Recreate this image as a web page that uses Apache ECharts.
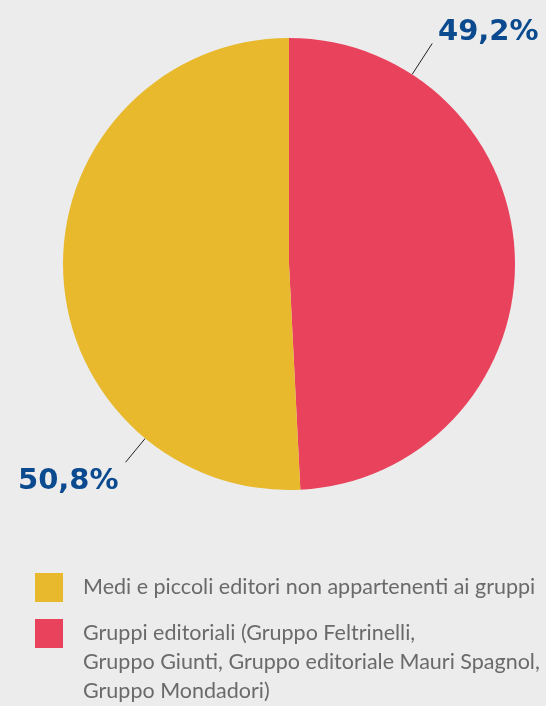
<!DOCTYPE html>
<html><head><meta charset="utf-8">
<script src="https://cdn.jsdelivr.net/npm/echarts@6/dist/echarts.min.js"></script>
<style>html,body{margin:0;padding:0;background:#ececec}#c{width:546px;height:706px}</style>
</head><body><div id="c"></div>
<script>
const categories = [
  "Gruppi editoriali (Gruppo Feltrinelli, Gruppo Giunti, Gruppo editoriale Mauri Spagnol, Gruppo Mondadori)",
  "Medi e piccoli editori non appartenenti ai gruppi"
];
const values = [49.2, 50.8];
const valueLabels = ["49,2%", "50,8%"];
const legendOrder = [categories[1], categories[0]];
const colors = ["#e9425c", "#e8b92c"];

const CX = 289, CY = 264, R = 226;
const labelAngles = [33, 219.5];      // degrees clockwise from top, label line anchor
const labelBoxes = [{x: 438, y: 32, lineLen: 37}, {x: 18, y: 481, lineLen: 31}];

function pt(angle, r) {
  const a = angle * Math.PI / 180;
  return [CX + r * Math.sin(a), CY - r * Math.cos(a)];
}

const chart = echarts.init(document.getElementById('c'));
chart.setOption({
  backgroundColor: '#ececec',
  animation: false,
  color: colors,
  legend: {
    orient: 'vertical',
    left: 35,
    top: 561,
    height: 400,
    padding: 0,
    itemWidth: 28,
    itemHeight: 29,
    itemGap: -41,
    icon: 'rect',
    data: legendOrder,
    formatter: function (name) {
      if (name === categories[0]) {
        return "\n\nGruppi editoriali (Gruppo Feltrinelli,\nGruppo Giunti, Gruppo editoriale Mauri Spagnol,\nGruppo Mondadori)";
      }
      return name;
    },
    textStyle: {
      color: '#6a6a6a',
      fontFamily: 'Lato',
      fontSize: 21.5,
      lineHeight: 29,
      padding: [0, 0, 0, 15]
    }
  },
  series: [{
    type: 'pie',
    center: [CX, CY],
    radius: [0, R],
    startAngle: 90,
    clockwise: true,
    data: categories.map((n, i) => ({name: n, value: values[i]})),
    label: {
      show: true,
      position: 'outside',
      width: 130,
      overflow: 'none',
      formatter: p => valueLabels[p.dataIndex],
      color: '#0b4a8e',
      fontFamily: 'DejaVu Sans',
      fontWeight: 'bold',
      fontSize: 29
    },
    labelLine: {show: true, lineStyle: {color: '#222', width: 1}},
    labelLayout: function (params) {
      const i = params.dataIndex;
      const b = labelBoxes[i];
      const p0 = pt(labelAngles[i], R);
      const p1 = pt(labelAngles[i], R + b.lineLen);
      return {
        x: b.x, y: b.y, align: 'left', verticalAlign: 'middle',
        labelLinePoints: [p0, p1, p1]
      };
    },
    emphasis: {disabled: true}
  }]
});
</script></body></html>
